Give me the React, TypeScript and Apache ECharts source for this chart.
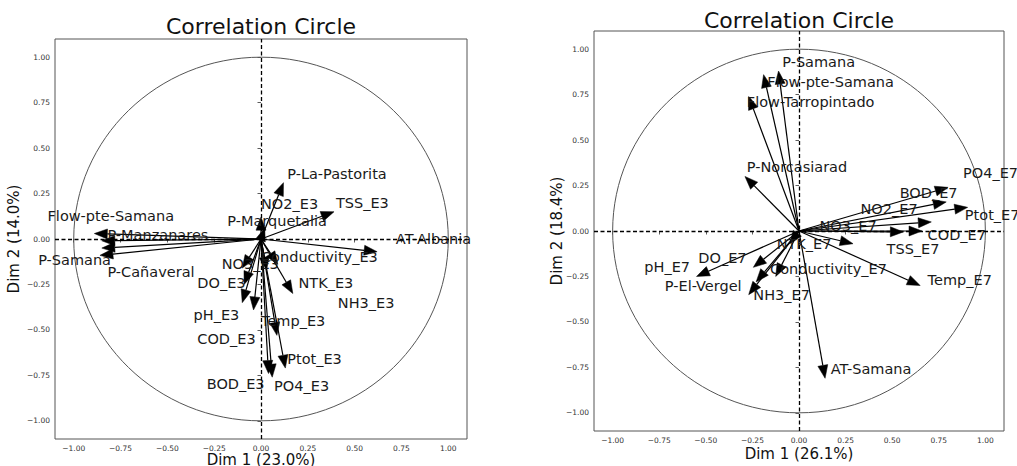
import React, { useEffect, useRef } from "react";
import * as echarts from "echarts";

// ---------- data ----------
const tickValues = [-1.0, -0.75, -0.5, -0.25, 0.0, 0.25, 0.5, 0.75, 1.0];

const leftTitle = "Correlation Circle";
const leftXName = "Dim 1 (23.0%)";
const leftYName = "Dim 2 (14.0%)";
const leftVars = [
  "Flow-pte-Samana", "P-Manzanares", "P-Cañaveral", "P-Samana", "P-Marquetalia",
  "P-La-Pastorita", "NO2_E3", "TSS_E3", "AT-Albania", "Conductivity_E3",
  "NO3_E3", "DO_E3", "NTK_E3", "NH3_E3", "pH_E3",
  "COD_E3", "Temp_E3", "Ptot_E3", "BOD_E3", "PO4_E3",
];
const leftDim1 = [-0.89, -0.85, -0.85, -0.86, 0.0, 0.12, 0.02, 0.39, 0.62, 0.09, -0.1, -0.09, 0.17, 0.03, -0.1, -0.04, 0.085, 0.13, 0.04, 0.06];
const leftDim2 = [0.03, -0.01, -0.05, -0.09, 0.12, 0.31, 0.06, 0.15, -0.07, -0.14, -0.16, -0.25, -0.3, -0.17, -0.35, -0.39, -0.53, -0.71, -0.74, -0.76];
const leftLabelX = [-1.14, -0.82, -0.82, -1.19, -0.18, 0.14, 0.0, 0.4, 0.72, 0.0, -0.21, -0.34, 0.2, 0.41, -0.36, -0.34, 0.0, 0.14, -0.29, 0.07];
const leftLabelY = [0.126, 0.02, -0.18, -0.115, 0.1, 0.36, 0.19, 0.2, 0.0, -0.1, -0.14, -0.24, -0.24, -0.35, -0.42, -0.55, -0.45, -0.66, -0.8, -0.81];

const rightTitle = "Correlation Circle";
const rightXName = "Dim 1 (26.1%)";
const rightYName = "Dim 2 (18.4%)";
const rightVars = [
  "P-Samana", "Flow-pte-Samana", "Flow-Tarropintado", "P-Norcasiarad", "PO4_E7",
  "BOD_E7", "Ptot_E7", "NO2_E7", "COD_E7", "NO3_E7",
  "TSS_E7", "Temp_E7", "NTK_E7", "Conductivity_E7", "pH_E7",
  "DO_E7", "P-El-Vergel", "NH3_E7", "AT-Samana",
];
const rightDim1 = [-0.11, -0.19, -0.27, -0.29, 0.8, 0.79, 0.905, 0.71, 0.66, 0.56, 0.29, 0.65, -0.05, -0.125, -0.55, -0.245, -0.23, -0.27, 0.14];
const rightDim2 = [0.88, 0.86, 0.74, 0.3, 0.24, 0.16, 0.13, 0.05, 0.0, -0.005, -0.07, -0.3, -0.07, -0.25, -0.25, -0.2, -0.28, -0.35, -0.81];
const rightLabelX = [-0.09, -0.17, -0.28, -0.28, 0.88, 0.54, 0.89, 0.33, 0.69, 0.11, 0.47, 0.69, -0.12, -0.155, -0.83, -0.54, -0.72, -0.245, 0.17];
const rightLabelY = [0.93, 0.82, 0.71, 0.35, 0.32, 0.21, 0.09, 0.12, -0.02, 0.03, -0.1, -0.27, -0.07, -0.21, -0.2, -0.15, -0.3, -0.35, -0.76];

// ---------- helpers ----------
const FONT = "DejaVu Sans";
const fmtTick = (v: number) => (v < 0 ? "\u2212" : "") + Math.abs(v).toFixed(2);

function makeAxis(gridIndex: number) {
  return {
    type: "value",
    gridIndex,
    min: -1.1,
    max: 1.1,
    axisLine: { show: false },
    splitLine: { show: false },
    axisTick: {
      show: true,
      inside: false,
      length: 3.5,
      customValues: tickValues,
      lineStyle: { color: "#333", width: 0.8 },
    },
    axisLabel: {
      show: true,
      customValues: tickValues,
      formatter: fmtTick,
      fontSize: 7.5,
      fontFamily: FONT,
      color: "#333",
      margin: 5,
    },
  };
}

function circleSeries(idx: number) {
  return {
    type: "custom",
    xAxisIndex: idx,
    yAxisIndex: idx,
    silent: true,
    data: [[0, 0]],
    renderItem: (_p: any, api: any) => {
      const c = api.coord([0, 0]);
      const s = api.size([1, 1]);
      return {
        type: "ellipse",
        shape: { cx: c[0], cy: c[1], rx: s[0], ry: s[1] },
        style: { fill: "none", stroke: "#555", lineWidth: 1 },
      };
    },
    z: 1,
  };
}

function dashSeries(idx: number) {
  return {
    type: "line",
    xAxisIndex: idx,
    yAxisIndex: idx,
    data: [],
    silent: true,
    markLine: {
      silent: true,
      symbol: ["none", "none"],
      label: { show: false },
      lineStyle: { type: [4, 2.5], color: "#000", width: 1.3 },
      data: [{ xAxis: 0 }, { yAxis: 0 }],
      animation: false,
    },
    z: 2,
  };
}

function arrowSeries(idx: number, d1: number[], d2: number[]) {
  return {
    type: "custom",
    xAxisIndex: idx,
    yAxisIndex: idx,
    silent: true,
    data: d1.map((v, i) => [v, d2[i]]),
    encode: { x: 0, y: 1 },
    renderItem: (_p: any, api: any) => {
      const o = api.coord([0, 0]);
      const t = api.coord([api.value(0), api.value(1)]);
      const dx = t[0] - o[0];
      const dy = t[1] - o[1];
      const L = Math.hypot(dx, dy) || 1;
      const ux = dx / L;
      const uy = dy / L;
      const hl = 13;
      const hw = 5;
      const bx = t[0] - ux * hl;
      const by = t[1] - uy * hl;
      const px = -uy;
      const py = ux;
      return {
        type: "group",
        children: [
          {
            type: "line",
            shape: { x1: o[0], y1: o[1], x2: bx, y2: by },
            style: { stroke: "#000", lineWidth: 1.2 },
          },
          {
            type: "polygon",
            shape: {
              points: [
                [t[0], t[1]],
                [bx + px * hw, by + py * hw],
                [bx - px * hw, by - py * hw],
              ],
            },
            style: { fill: "#000", stroke: "#000", lineWidth: 0.5 },
          },
        ],
      };
    },
    z: 3,
  };
}

function labelSeries(idx: number, names: string[], lx: number[], ly: number[]) {
  return {
    type: "custom",
    xAxisIndex: idx,
    yAxisIndex: idx,
    silent: true,
    clip: false,
    data: lx.map((v, i) => [v, ly[i]]),
    encode: { x: 0, y: 1 },
    renderItem: (p: any, api: any) => {
      const c = api.coord([api.value(0), api.value(1)]);
      return {
        type: "text",
        x: c[0],
        y: c[1],
        style: {
          text: names[p.dataIndex],
          fill: "#1a1a1a",
          fontSize: 14.5,
          fontFamily: FONT,
          textAlign: "left",
          textVerticalAlign: "middle",
        },
      };
    },
    z: 4,
  };
}

function textEl(text: string, x: number, y: number, size: number, rotate = 0) {
  return {
    type: "text",
    x,
    y,
    rotation: rotate,
    style: {
      text,
      fill: "#111",
      fontSize: size,
      fontFamily: FONT,
      textAlign: "center",
      textVerticalAlign: "middle",
    },
  };
}

export default function App() {
  const ref = useRef<HTMLDivElement>(null);
  useEffect(() => {
    if (!ref.current) return;
    const chart = echarts.init(ref.current, undefined, { renderer: "svg" });
    chart.setOption({
      animation: false,
      backgroundColor: "#fff",
      grid: [
        { left: 55, top: 39, width: 412, height: 400, show: true, borderColor: "#555", borderWidth: 1, backgroundColor: "transparent" },
        { left: 594, top: 31, width: 410, height: 400, show: true, borderColor: "#555", borderWidth: 1, backgroundColor: "transparent" },
      ],
      xAxis: [makeAxis(0), makeAxis(1)],
      yAxis: [makeAxis(0), makeAxis(1)],
      graphic: [
        textEl(leftTitle, 261, 26, 22),
        textEl(rightTitle, 799, 20, 22),
        textEl(leftXName, 261, 460, 15),
        textEl(rightXName, 799, 454, 15),
        textEl(leftYName, 14, 239, 15, Math.PI / 2),
        textEl(rightYName, 557, 231, 15, Math.PI / 2),
      ],
      series: [
        circleSeries(0),
        dashSeries(0),
        arrowSeries(0, leftDim1, leftDim2),
        labelSeries(0, leftVars, leftLabelX, leftLabelY),
        circleSeries(1),
        dashSeries(1),
        arrowSeries(1, rightDim1, rightDim2),
        labelSeries(1, rightVars, rightLabelX, rightLabelY),
      ],
    });
    return () => chart.dispose();
  }, []);
  return (
    <div
      ref={ref}
      style={{ position: "absolute", left: 0, top: 0, width: 1017, height: 466 }}
    />
  );
}
